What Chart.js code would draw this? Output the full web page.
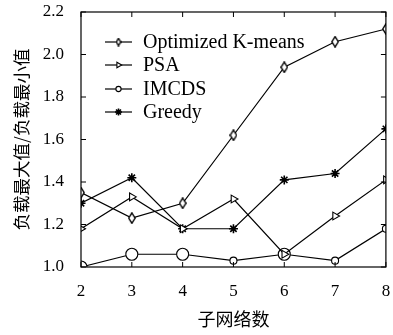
<!DOCTYPE html>
<html>
<head>
<meta charset="utf-8">
<script src="https://cdn.jsdelivr.net/npm/chart.js@4/dist/chart.umd.min.js"></script>
<style>
  html, body { margin: 0; padding: 0; background: #fff; }
  #wrap { width: 393px; height: 335px; }
</style>
</head>
<body>
<div id="wrap"><canvas id="c"></canvas></div>
<script>
const subnets = [2, 3, 4, 5, 6, 7, 8];
const kmeans = [1.35, 1.23, 1.30, 1.62, 1.94, 2.06, 2.12];
const psa    = [1.18, 1.33, 1.18, 1.32, 1.06, 1.24, 1.41];
const imcds  = [1.00, 1.06, 1.06, 1.03, 1.06, 1.03, 1.18];
const greedy = [1.30, 1.42, 1.18, 1.18, 1.41, 1.44, 1.65];
const yTicks = [1.0, 1.2, 1.4, 1.6, 1.8, 2.0, 2.2];

const SERIF = "'Liberation Serif', 'DejaVu Serif', serif";
const CJK = "'Noto Sans CJK SC', sans-serif";

// thin open diamond marker
function makeDiamond(w, h) {
  const cv = document.createElement("canvas");
  cv.width = w; cv.height = h;
  const g = cv.getContext("2d");
  g.beginPath();
  g.moveTo(w / 2, 0.8); g.lineTo(w - 0.8, h / 2); g.lineTo(w / 2, h - 0.8); g.lineTo(0.8, h / 2); g.closePath();
  g.fillStyle = "#fff"; g.fill();
  g.lineWidth = 1.4; g.strokeStyle = "#000"; g.stroke();
  return cv;
}
const diamond = makeDiamond(8, 12);
const diamondSmall = makeDiamond(6, 9);

const pts = (data) => subnets.map((x, i) => ({ x, y: data[i] }));
const base = { borderColor: "#000", borderWidth: 1.2, backgroundColor: "#fff", pointBorderColor: "#000", pointBackgroundColor: "#fff", pointBorderWidth: 1.1, tension: 0 };

const datasets = [
  { ...base, label: "Optimized K-means", data: pts(kmeans), pointStyle: diamond, pointRadius: 5, legendStyle: diamondSmall, legendRadius: 3 },
  { ...base, label: "PSA", data: pts(psa), pointStyle: "triangle", pointRotation: 90, pointRadius: 4.5, legendRadius: 3.2 },
  { ...base, label: "IMCDS", data: pts(imcds), pointStyle: "circle", pointRadius: [6, 6, 6, 3.5, 6, 3.5, 3.5], legendRadius: 2.6 },
  { ...base, label: "Greedy", data: pts(greedy), pointStyle: "star", pointRadius: 4.5, pointBorderWidth: 1.6, legendRadius: 3.5 }
];

const framePlugin = {
  id: "frame",
  afterDatasetsDraw(chart) {
    const { ctx, chartArea: a, scales } = chart;
    ctx.save();
    ctx.strokeStyle = "#000";
    ctx.lineWidth = 1.2;
    ctx.strokeRect(a.left, a.top, a.right - a.left, a.bottom - a.top);
    ctx.lineWidth = 1;
    ctx.beginPath();
    subnets.forEach(v => {
      const x = scales.x.getPixelForValue(v);
      ctx.moveTo(x, a.bottom); ctx.lineTo(x, a.bottom - 5);
      ctx.moveTo(x, a.top); ctx.lineTo(x, a.top + 5);
    });
    yTicks.forEach(v => {
      const y = scales.y.getPixelForValue(v);
      ctx.moveTo(a.left, y); ctx.lineTo(a.left + 5, y);
      ctx.moveTo(a.right, y); ctx.lineTo(a.right - 5, y);
    });
    ctx.stroke();

    // legend: line sample with marker in the middle
    const lx = a.left + 24, lw = 27, tx = a.left + 62;
    ctx.font = "20px " + SERIF;
    ctx.textBaseline = "middle";
    chart.data.datasets.forEach((ds, i) => {
      const y = Math.round(a.top + 30 + i * 23.3);
      ctx.strokeStyle = "#000";
      ctx.lineWidth = 1.2;
      ctx.beginPath(); ctx.moveTo(lx, y); ctx.lineTo(lx + lw, y); ctx.stroke();
      ctx.fillStyle = "#fff";
      ctx.lineWidth = ds.pointBorderWidth;
      Chart.helpers.drawPoint(ctx, { pointStyle: ds.legendStyle || ds.pointStyle, rotation: ds.pointRotation || 0, radius: ds.legendRadius, borderWidth: ds.pointBorderWidth }, lx + lw / 2, y);
      ctx.fillStyle = "#000";
      ctx.fillText(ds.label, tx, y + 1);
    });
    ctx.restore();
  }
};

new Chart(document.getElementById("c"), {
  type: "line",
  data: { datasets },
  plugins: [framePlugin],
  options: {
    animation: false, responsive: true, maintainAspectRatio: false,
    layout: { padding: { top: 12, right: 1, left: 0, bottom: 1 } },
    plugins: { legend: { display: false }, tooltip: { enabled: false } },
    scales: {
      x: {
        type: "linear", min: 2, max: 8,
        grid: { display: false, drawTicks: false }, border: { display: false },
        afterFit(s) { s.height = 67; s.paddingLeft = 0; s.paddingRight = 0; },
        ticks: { stepSize: 1, color: "#000", font: { family: SERIF, size: 17 }, padding: 14 },
        title: { display: true, text: "子网络数", color: "#000", font: { family: CJK, size: 18 }, padding: { top: 2 } }
      },
      y: {
        type: "linear", min: 1.0, max: 2.2,
        grid: { display: false, drawTicks: false }, border: { display: false },
        afterFit(s) { s.width = 81; s.paddingTop = 0; s.paddingBottom = 0; },
        ticks: { stepSize: 0.2, color: "#000", font: { family: SERIF, size: 17 }, padding: 17, callback: v => Number(v).toFixed(1) },
        title: { display: true, text: "负载最大值/负载最小值", color: "#000", font: { family: CJK, size: 17.5 }, padding: { top: 11 } }
      }
    }
  }
});
</script>
</body>
</html>
